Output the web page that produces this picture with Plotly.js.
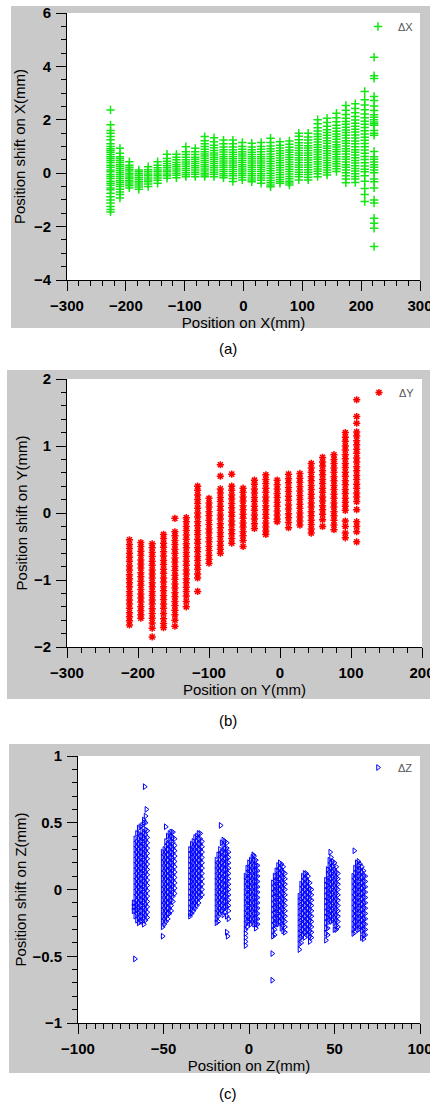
<!DOCTYPE html>
<html><head><meta charset="utf-8">
<script src="https://cdn.plot.ly/plotly-3.0.1.min.js"></script>
<style>html,body{margin:0;padding:0;background:#fff}#chart{width:430px;height:1106px}</style>
</head><body><div id="chart"></div>
<script>
// ---------- Panel (a): position shift on X ----------
const axX = [-226,-210,-194,-178,-162,-146,-130,-114,-98,-82,-66,-50,-34,-18,-2,14,30,46,62,78,94,110,126,142,158,174,190,206,222];
const axY = [
 [2.37,1.81,1.6,1.5,1.37,1.25,1.1,1.0,0.92,0.85,0.78,0.7,0.62,0.55,0.48,0.4,0.3,0.22,0.12,0.05,-0.05,-0.12,-0.2,-0.3,-0.38,-0.45,-0.55,-0.62,-0.75,-0.88,-1.0,-1.12,-1.25,-1.36,-1.45],
 [0.93,0.75,0.62,0.55,0.48,0.4,0.32,0.25,0.18,0.1,0.03,-0.05,-0.12,-0.2,-0.28,-0.35,-0.42,-0.5,-0.6,-0.7,-0.8,-0.93],
 [0.43,0.3,0.22,0.15,0.08,0.0,-0.07,-0.14,-0.2,-0.27,-0.33,-0.4,-0.47,-0.55],
 [0.12,0.05,-0.02,-0.09,-0.16,-0.23,-0.3,-0.37,-0.44,-0.52,-0.6],
 [0.24,0.13,0.05,-0.03,-0.1,-0.18,-0.25,-0.32,-0.4,-0.5],
 [0.43,0.3,0.2,0.12,0.05,-0.03,-0.1,-0.18,-0.26,-0.38],
 [0.71,0.55,0.45,0.36,0.28,0.2,0.12,0.05,-0.03,-0.1,-0.19],
 [0.71,0.6,0.5,0.4,0.32,0.24,0.16,0.08,0.0,-0.08,-0.17],
 [0.99,0.8,0.7,0.6,0.5,0.42,0.34,0.26,0.18,0.1,0.02,-0.06,-0.13],
 [0.93,0.8,0.7,0.6,0.52,0.44,0.36,0.28,0.2,0.12,0.04,-0.04,-0.13],
 [1.37,1.22,1.1,1.0,0.9,0.8,0.72,0.64,0.56,0.48,0.4,0.32,0.24,0.16,0.08,0.0,-0.07,-0.13],
 [1.33,1.18,1.05,0.95,0.85,0.76,0.68,0.6,0.52,0.44,0.36,0.28,0.2,0.12,0.04,-0.04,-0.13],
 [1.24,1.1,0.98,0.88,0.79,0.7,0.62,0.54,0.46,0.38,0.3,0.22,0.14,0.06,-0.02,-0.1,-0.17],
 [1.24,1.1,0.98,0.88,0.78,0.7,0.62,0.54,0.46,0.38,0.3,0.22,0.14,0.06,-0.02,-0.1,-0.2,-0.31],
 [1.15,1.0,0.9,0.8,0.72,0.64,0.56,0.48,0.4,0.32,0.24,0.16,0.08,0.0,-0.08,-0.16,-0.25],
 [1.12,0.98,0.88,0.78,0.7,0.62,0.54,0.46,0.38,0.3,0.22,0.14,0.06,-0.02,-0.1,-0.18,-0.25,-0.32],
 [1.15,1.0,0.9,0.8,0.7,0.62,0.54,0.46,0.38,0.3,0.22,0.14,0.06,-0.02,-0.1,-0.18,-0.26,-0.38],
 [1.31,1.15,1.02,0.92,0.82,0.72,0.63,0.54,0.45,0.36,0.27,0.18,0.09,0.0,-0.09,-0.18,-0.27,-0.36,-0.44,-0.51],
 [1.18,1.05,0.94,0.84,0.75,0.66,0.57,0.48,0.39,0.3,0.21,0.12,0.03,-0.06,-0.15,-0.24,-0.31,-0.38],
 [1.21,1.08,0.97,0.87,0.78,0.69,0.6,0.51,0.42,0.33,0.24,0.15,0.06,-0.03,-0.12,-0.21,-0.3,-0.37,-0.44],
 [1.5,1.38,1.25,1.14,1.04,0.94,0.85,0.76,0.67,0.58,0.49,0.4,0.31,0.22,0.13,0.04,-0.05,-0.13,-0.25],
 [1.5,1.36,1.24,1.13,1.03,0.94,0.85,0.76,0.67,0.58,0.49,0.4,0.31,0.22,0.13,0.04,-0.05,-0.15,-0.25],
 [2.0,1.85,1.7,1.58,1.47,1.37,1.27,1.17,1.07,0.97,0.88,0.79,0.7,0.61,0.52,0.43,0.34,0.25,0.16,0.07,-0.02,-0.13],
 [2.06,1.9,1.76,1.63,1.52,1.42,1.32,1.22,1.12,1.02,0.93,0.84,0.75,0.66,0.57,0.48,0.39,0.3,0.21,0.12,0.03,-0.07],
 [2.25,2.08,1.93,1.8,1.68,1.57,1.47,1.37,1.27,1.17,1.07,0.98,0.89,0.8,0.71,0.62,0.53,0.44,0.35,0.26,0.17,0.06],
 [2.54,2.36,2.2,2.06,1.94,1.83,1.72,1.62,1.52,1.42,1.32,1.22,1.12,1.02,0.92,0.82,0.72,0.62,0.52,0.42,0.32,0.22,0.12,0.02,-0.1,-0.22,-0.36],
 [2.6,2.42,2.26,2.12,1.99,1.87,1.76,1.65,1.54,1.43,1.32,1.21,1.1,0.99,0.88,0.78,0.68,0.58,0.48,0.38,0.28,0.18,0.08,-0.02,-0.12,-0.22,-0.35],
 [3.06,2.75,2.55,2.38,2.22,2.08,1.95,1.83,1.71,1.59,1.47,1.35,1.23,1.11,0.99,0.87,0.75,0.63,0.51,0.39,0.27,0.15,0.05,-0.1,-0.3,-0.57,-0.8,-1.06],
 [4.34,3.65,3.55,2.87,2.72,2.52,2.35,2.19,2.1,2.0,1.92,1.85,1.8,1.6,1.5,1.42,0.81,0.62,0.52,0.42,0.32,0.22,0.12,0.02,-0.22,-0.32,-0.55,-1.0,-1.12,-1.69,-1.87,-2.06,-2.75]
];

// ---------- Panel (b): position shift on Y ----------
const byX = [-212,-196,-180,-164,-148,-132,-116,-100,-84,-68,-52,-36,-20,-4,12,28,44,60,76,92,108];
const byY = [
 [-0.4,-0.47,-0.53,-0.6,-0.66,-0.72,-0.79,-0.85,-0.92,-0.98,-1.04,-1.1,-1.17,-1.23,-1.3,-1.36,-1.42,-1.49,-1.55,-1.61,-1.67],
 [-0.44,-0.5,-0.57,-0.63,-0.7,-0.76,-0.82,-0.89,-0.95,-1.02,-1.08,-1.14,-1.21,-1.27,-1.33,-1.4,-1.46,-1.52,-1.57],
 [-0.46,-0.52,-0.59,-0.65,-0.72,-0.78,-0.85,-0.91,-0.97,-1.04,-1.1,-1.17,-1.23,-1.3,-1.36,-1.43,-1.5,-1.57,-1.64,-1.72,-1.85],
 [-0.32,-0.38,-0.45,-0.51,-0.58,-0.64,-0.71,-0.77,-0.84,-0.9,-0.97,-1.03,-1.1,-1.16,-1.23,-1.29,-1.36,-1.42,-1.5,-1.58,-1.65,-1.71],
 [-0.08,-0.28,-0.34,-0.41,-0.47,-0.54,-0.6,-0.67,-0.73,-0.8,-0.86,-0.93,-0.99,-1.06,-1.12,-1.19,-1.25,-1.32,-1.38,-1.45,-1.52,-1.6,-1.69],
 [-0.07,-0.13,-0.2,-0.26,-0.33,-0.39,-0.46,-0.52,-0.59,-0.65,-0.72,-0.78,-0.85,-0.91,-0.98,-1.04,-1.11,-1.17,-1.24,-1.32,-1.4],
 [0.4,0.34,0.27,0.2,0.14,0.07,0.0,-0.06,-0.13,-0.19,-0.26,-0.32,-0.39,-0.45,-0.52,-0.58,-0.65,-0.71,-0.78,-0.84,-0.91,-0.97,-1.17],
 [0.22,0.15,0.09,0.02,-0.04,-0.11,-0.17,-0.24,-0.3,-0.37,-0.43,-0.5,-0.56,-0.63,-0.69,-0.75],
 [0.72,0.55,0.36,0.3,0.23,0.17,0.1,0.04,-0.03,-0.09,-0.16,-0.22,-0.29,-0.35,-0.42,-0.48,-0.54,-0.6],
 [0.58,0.4,0.34,0.27,0.21,0.14,0.08,0.01,-0.05,-0.12,-0.18,-0.25,-0.31,-0.38,-0.45],
 [0.37,0.31,0.24,0.18,0.11,0.05,-0.02,-0.08,-0.15,-0.21,-0.28,-0.34,-0.41,-0.5],
 [0.49,0.43,0.36,0.3,0.23,0.17,0.1,0.04,-0.03,-0.09,-0.16,-0.23],
 [0.57,0.5,0.44,0.37,0.31,0.24,0.18,0.11,0.05,-0.02,-0.08,-0.15,-0.21,-0.27,-0.32],
 [0.49,0.42,0.36,0.29,0.23,0.16,0.1,0.03,-0.03,-0.09,-0.13],
 [0.58,0.51,0.45,0.38,0.32,0.25,0.19,0.12,0.06,-0.01,-0.07,-0.14,-0.22],
 [0.59,0.52,0.46,0.39,0.33,0.26,0.2,0.13,0.07,0.0,-0.06,-0.12,-0.18],
 [0.74,0.67,0.61,0.54,0.48,0.41,0.35,0.28,0.22,0.15,0.09,0.02,-0.04,-0.11,-0.17,-0.24,-0.3],
 [0.83,0.76,0.7,0.63,0.57,0.5,0.44,0.37,0.31,0.24,0.18,0.11,0.05,-0.02,-0.1,-0.2],
 [0.87,0.8,0.74,0.67,0.61,0.54,0.48,0.41,0.35,0.28,0.22,0.15,0.09,0.02,-0.04,-0.11,-0.18,-0.25],
 [1.2,1.13,1.07,1.0,0.94,0.87,0.81,0.74,0.68,0.61,0.55,0.48,0.42,0.35,0.29,0.22,0.16,0.1,0.04,-0.12,-0.2,-0.3,-0.37],
 [1.69,1.44,1.34,1.21,1.15,1.08,1.02,0.95,0.89,0.82,0.76,0.69,0.63,0.56,0.5,0.43,0.37,0.3,0.24,0.17,0.05,-0.13,-0.2,-0.28,-0.43]
];

// ---------- Panel (c): position shift on Z (9 clusters, sub-columns) ----------
const czX = [
 [-66.5,-65.5,-64.5,-63.5,-62.5,-61.5,-60.5,-59.5],
 [-50.5,-49.5,-48.5,-47.5,-46.5,-45.5,-44.5,-43.5],
 [-34.5,-33.5,-32.5,-31.5,-30.5,-29.5,-28.5,-27.5],
 [-19,-18,-17,-16,-15,-14,-13,-12],
 [-2,-1,0,1,2,3,4,5],
 [14,15,16,17,18,19,20,21],
 [29.5,30.5,31.5,32.5,33.5,34.5,35.5,36.5],
 [45,46,47,48,49,50,51,52],
 [61,62,63,64,65,66,67,68]
];
const czY = [
 [[0.38,0.34,0.3,0.26,0.22,0.18,0.14,0.1,0.06,0.02,-0.02,-0.06,-0.1,-0.13,-0.16,-0.2],
  [0.42,0.36,0.32,0.28,0.24,0.2,0.16,0.12,0.08,0.04,0.0,-0.04,-0.08,-0.12,-0.15,-0.19,-0.23],
  [0.46,0.42,0.38,0.34,0.3,0.26,0.22,0.18,0.14,0.1,0.06,0.02,-0.02,-0.06,-0.1,-0.14,-0.18,-0.22,-0.25],
  [0.47,0.4,0.36,0.32,0.28,0.24,0.2,0.16,0.12,0.08,0.04,0.0,-0.04,-0.08,-0.12,-0.16,-0.2,-0.24],
  [0.48,0.44,0.4,0.36,0.32,0.28,0.24,0.2,0.16,0.12,0.08,0.04,0.0,-0.04,-0.08,-0.12,-0.16,-0.2,-0.24],
  [0.5,0.43,0.39,0.35,0.31,0.27,0.23,0.19,0.15,0.11,0.07,0.03,-0.01,-0.05,-0.09,-0.13,-0.17,-0.21,-0.26],
  [0.55,0.5,0.45,0.41,0.37,0.33,0.29,0.25,0.21,0.17,0.13,0.09,0.05,0.01,-0.03,-0.07,-0.11,-0.15,-0.19,-0.23],
  [0.44,0.39,0.35,0.31,0.27,0.23,0.19,0.15,0.11,0.07,0.03,-0.01,-0.05,-0.09,-0.13,-0.17,-0.21]],
 [[0.28,0.24,0.2,0.16,0.12,0.08,0.04,0.0,-0.04,-0.08,-0.12,-0.16,-0.2,-0.24,-0.28],
  [0.3,0.26,0.22,0.18,0.14,0.1,0.06,0.02,-0.02,-0.06,-0.1,-0.14,-0.18,-0.22,-0.26],
  [0.36,0.32,0.28,0.24,0.2,0.16,0.12,0.08,0.04,0.0,-0.04,-0.08,-0.12,-0.16,-0.2,-0.24],
  [0.4,0.34,0.3,0.26,0.22,0.18,0.14,0.1,0.06,0.02,-0.02,-0.06,-0.1,-0.14,-0.18,-0.22],
  [0.42,0.38,0.34,0.3,0.26,0.22,0.18,0.14,0.1,0.06,0.02,-0.02,-0.06,-0.1,-0.14,-0.18],
  [0.43,0.4,0.36,0.32,0.28,0.24,0.2,0.16,0.12,0.08,0.04,0.0,-0.04,-0.08,-0.12,-0.16],
  [0.43,0.39,0.35,0.31,0.27,0.23,0.19,0.15,0.11,0.07,0.03,-0.01,-0.05,-0.09],
  [0.38,0.33,0.29,0.25,0.21,0.17,0.13,0.09,0.05,0.01,-0.03]],
 [[0.3,0.26,0.22,0.18,0.14,0.1,0.06,0.02,-0.02,-0.06,-0.1,-0.14,-0.18,-0.2],
  [0.34,0.3,0.26,0.22,0.18,0.14,0.1,0.06,0.02,-0.02,-0.06,-0.1,-0.14,-0.18],
  [0.36,0.32,0.28,0.24,0.2,0.16,0.12,0.08,0.04,0.0,-0.04,-0.08,-0.12,-0.16],
  [0.39,0.34,0.3,0.26,0.22,0.18,0.14,0.1,0.06,0.02,-0.02,-0.06,-0.1,-0.14],
  [0.4,0.36,0.32,0.28,0.24,0.2,0.16,0.12,0.08,0.04,0.0,-0.04,-0.08,-0.12],
  [0.42,0.38,0.34,0.3,0.26,0.22,0.18,0.14,0.1,0.06,0.02,-0.02,-0.06,-0.1],
  [0.42,0.38,0.34,0.3,0.26,0.22,0.18,0.14,0.1,0.06,0.02,-0.02,-0.06],
  [0.36,0.32,0.28,0.24,0.2,0.16,0.12,0.08,0.04,0.0,-0.04]],
 [[0.22,0.18,0.14,0.1,0.06,0.02,-0.02,-0.06,-0.1,-0.14,-0.18,-0.22,-0.25],
  [0.26,0.2,0.16,0.12,0.08,0.04,0.0,-0.04,-0.08,-0.12,-0.16,-0.2,-0.24],
  [0.3,0.26,0.22,0.18,0.14,0.1,0.06,0.02,-0.02,-0.06,-0.1,-0.14,-0.18],
  [0.35,0.28,0.24,0.2,0.16,0.12,0.08,0.04,0.0,-0.04,-0.08,-0.12,-0.16],
  [0.37,0.33,0.29,0.25,0.21,0.17,0.13,0.09,0.05,0.01,-0.03,-0.07,-0.11,-0.15,-0.19],
  [0.36,0.31,0.27,0.23,0.19,0.15,0.11,0.07,0.03,-0.01,-0.05,-0.09,-0.13,-0.17],
  [0.35,0.31,0.27,0.23,0.19,0.15,0.11,0.07,0.03,-0.01,-0.05,-0.09,-0.13,-0.2],
  [0.28,0.24,0.2,0.16,0.12,0.08,0.04,0.0,-0.04,-0.08,-0.12,-0.16,-0.22]],
 [[0.1,0.06,0.02,-0.02,-0.06,-0.1,-0.14,-0.18,-0.22,-0.26,-0.3,-0.33,-0.36,-0.39,-0.42],
  [0.16,0.12,0.08,0.04,0.0,-0.04,-0.08,-0.12,-0.16,-0.2,-0.24,-0.28],
  [0.2,0.16,0.12,0.08,0.04,0.0,-0.04,-0.08,-0.12,-0.16,-0.2,-0.24],
  [0.22,0.18,0.14,0.1,0.06,0.02,-0.02,-0.06,-0.1,-0.14,-0.18,-0.22,-0.26],
  [0.24,0.2,0.16,0.12,0.08,0.04,0.0,-0.04,-0.08,-0.12,-0.16,-0.2,-0.24],
  [0.25,0.22,0.18,0.14,0.1,0.06,0.02,-0.02,-0.06,-0.1,-0.14,-0.18,-0.22,-0.26],
  [0.22,0.18,0.14,0.1,0.06,0.02,-0.02,-0.06,-0.1,-0.14,-0.18,-0.22,-0.26,-0.29],
  [0.18,0.14,0.1,0.06,0.02,-0.02,-0.06,-0.1,-0.14,-0.18,-0.22,-0.26]],
 [[0.05,0.01,-0.03,-0.07,-0.11,-0.15,-0.19,-0.23,-0.27,-0.31,-0.35],
  [0.1,0.06,0.02,-0.02,-0.06,-0.1,-0.14,-0.18,-0.22,-0.26,-0.3,-0.34],
  [0.14,0.1,0.06,0.02,-0.02,-0.06,-0.1,-0.14,-0.18,-0.22,-0.26],
  [0.18,0.14,0.1,0.06,0.02,-0.02,-0.06,-0.1,-0.14,-0.18,-0.22,-0.26],
  [0.2,0.16,0.12,0.08,0.04,0.0,-0.04,-0.08,-0.12,-0.16,-0.2,-0.24],
  [0.19,0.15,0.11,0.07,0.03,-0.01,-0.05,-0.09,-0.13,-0.17,-0.21,-0.25,-0.29],
  [0.17,0.13,0.09,0.05,0.01,-0.03,-0.07,-0.11,-0.15,-0.19,-0.23,-0.27,-0.31],
  [0.12,0.08,0.04,0.0,-0.04,-0.08,-0.12,-0.16,-0.2,-0.24,-0.28,-0.32]],
 [[-0.05,-0.09,-0.13,-0.17,-0.21,-0.25,-0.29,-0.33,-0.37,-0.41,-0.45],
  [0.04,0.0,-0.04,-0.08,-0.12,-0.16,-0.2,-0.24,-0.28,-0.32,-0.36,-0.4],
  [0.1,0.06,0.02,-0.02,-0.06,-0.1,-0.14,-0.18,-0.22,-0.26,-0.3,-0.34],
  [0.12,0.08,0.04,0.0,-0.04,-0.08,-0.12,-0.16,-0.2,-0.24,-0.28,-0.32,-0.36],
  [0.12,0.08,0.04,0.0,-0.04,-0.08,-0.12,-0.16,-0.2,-0.24,-0.28,-0.32],
  [0.1,0.06,0.02,-0.02,-0.06,-0.1,-0.14,-0.18,-0.22,-0.26,-0.3,-0.34],
  [0.05,0.01,-0.03,-0.07,-0.11,-0.15,-0.19,-0.23,-0.27,-0.31,-0.35,-0.39],
  [0.0,-0.04,-0.08,-0.12,-0.16,-0.2,-0.24,-0.28,-0.32,-0.36]],
 [[0.07,0.03,-0.01,-0.05,-0.09,-0.13,-0.17,-0.21,-0.25,-0.29,-0.33,-0.38],
  [0.15,0.11,0.07,0.03,-0.01,-0.05,-0.09,-0.13,-0.17,-0.21,-0.25,-0.29,-0.34],
  [0.22,0.18,0.14,0.1,0.06,0.02,-0.02,-0.06,-0.1,-0.14,-0.18,-0.22],
  [0.24,0.2,0.16,0.12,0.08,0.04,0.0,-0.04,-0.08,-0.12,-0.16,-0.2,-0.24],
  [0.21,0.17,0.13,0.09,0.05,0.01,-0.03,-0.07,-0.11,-0.15,-0.19,-0.23],
  [0.2,0.15,0.11,0.07,0.03,-0.01,-0.05,-0.09,-0.13,-0.17,-0.21,-0.25,-0.3],
  [0.17,0.13,0.09,0.05,0.01,-0.03,-0.07,-0.11,-0.15,-0.19,-0.23,-0.27,-0.3],
  [0.12,0.08,0.04,0.0,-0.04,-0.08,-0.12,-0.16,-0.2,-0.24,-0.28]],
 [[0.1,0.06,0.02,-0.02,-0.06,-0.1,-0.14,-0.18,-0.22,-0.26,-0.3,-0.33],
  [0.16,0.12,0.08,0.04,0.0,-0.04,-0.08,-0.12,-0.16,-0.2,-0.24,-0.28,-0.32],
  [0.2,0.16,0.12,0.08,0.04,0.0,-0.04,-0.08,-0.12,-0.16,-0.2,-0.24,-0.28],
  [0.21,0.18,0.14,0.1,0.06,0.02,-0.02,-0.06,-0.1,-0.14,-0.18,-0.22,-0.26,-0.3],
  [0.19,0.15,0.11,0.07,0.03,-0.01,-0.05,-0.09,-0.13,-0.17,-0.21,-0.25,-0.29],
  [0.17,0.13,0.09,0.05,0.01,-0.03,-0.07,-0.11,-0.15,-0.19,-0.23,-0.27,-0.31,-0.36],
  [0.14,0.1,0.06,0.02,-0.02,-0.06,-0.1,-0.14,-0.18,-0.22,-0.26,-0.3,-0.34,-0.37],
  [0.1,0.06,0.02,-0.02,-0.06,-0.1,-0.14,-0.18,-0.22,-0.26,-0.3,-0.34]]
];
const czOutX = [-61,-60,-61.5,-66.7,-67.5,-67.5,-67.5,-48.7,-50.5,-16.6,-13,-12.5,2.5,13.6,13.6,47.5,61.6];
const czOutY = [0.77,0.6,0.52,-0.52,-0.1,-0.13,-0.16,0.47,-0.35,0.48,-0.32,-0.35,0.26,-0.48,-0.68,0.28,0.29];

// ---------- text ----------
const titles = {
  ax: 'Position on X(mm)', ay: 'Position shift on X(mm)',
  bx: 'Position on Y(mm)', by: 'Position shift on Y(mm)',
  cx: 'Position on Z(mm)', cy: 'Position shift on Z(mm)'
};
const seriesNames = ['ΔX','ΔY','ΔZ'];
const captions = ['(a)','(b)','(c)'];

// ---------- build ----------
function flatCols(xs, ys){
  const X=[],Y=[];
  xs.forEach((x,i)=>ys[i].forEach(v=>{X.push(x);Y.push(v);}));
  return [X,Y];
}
const [aX,aY] = flatCols(axX, axY);
const [bX,bY] = flatCols(byX, byY);
const cX=[], cY=[];
czX.forEach((grp,i)=>grp.forEach((x,j)=>czY[i][j].forEach(v=>{cX.push(x);cY.push(v);})));
czOutX.forEach((x,i)=>{cX.push(x);cY.push(czOutY[i]);});

const W=430,H=1106;
const PX=v=>v/W, PY=v=>1-v/H;
const FONT='Liberation Sans, Arial, sans-serif';

function axisBase(domain, range, dtick, minor, title, anchor, standoff){
  return {domain, range, dtick, tick0:0, anchor, ticks:'outside', ticklen:10, tickwidth:1, tickcolor:'#000',
    showline:true, linecolor:'#000', linewidth:1, showgrid:false, zeroline:false,
    ticklabelstandoff:2, ticklabeloverflow:'allow',
    tickfont:{family:FONT,size:15,color:'#000',weight:'bold'},
    minor:{dtick:minor, tick0:0, ticks:'outside', ticklen:5, tickwidth:1, tickcolor:'#000', showgrid:false},
    title:{text:title, font:{family:FONT,size:15,color:'#000'}, standoff}};
}

const traces = [
  {type:'scatter', mode:'markers', x:aX, y:aY, xaxis:'x', yaxis:'y', name:seriesNames[0], legend:'legend',
   marker:{symbol:'cross-thin-open', size:6, color:'#14e614', line:{color:'#14e614', width:1.5}}},
  {type:'scatter', mode:'markers', x:bX, y:bY, xaxis:'x2', yaxis:'y2', name:seriesNames[1], legend:'legend2',
   marker:{symbol:'asterisk-open', size:6, color:'#ff0000', line:{color:'#ff0000', width:1.5}}},
  {type:'scatter', mode:'markers', x:cX, y:cY, xaxis:'x3', yaxis:'y3', name:seriesNames[2], legend:'legend3',
   marker:{symbol:'triangle-right-open', size:5, color:'#0000ff', line:{color:'#0000ff', width:1}}}
];

const frames = [
  {x0:11,x1:430,y0:6,y1:328, px0:67,px1:420,py0:13,py1:280},
  {x0:7,x1:430,y0:370,y1:699, px0:67,px1:422,py0:379,py1:647},
  {x0:9,x1:430,y0:744,y1:1073, px0:78,px1:420,py0:756,py1:1023}
];
const shapes=[];
frames.forEach(f=>{
  shapes.push({type:'rect',xref:'paper',yref:'paper',layer:'below',x0:PX(f.x0),x1:PX(f.x1),y0:PY(f.y1),y1:PY(f.y0),fillcolor:'#c9c9c9',line:{width:0}});
  shapes.push({type:'rect',xref:'paper',yref:'paper',layer:'below',x0:PX(f.px0),x1:PX(f.px1),y0:PY(f.py1),y1:PY(f.py0),fillcolor:'#ffffff',line:{width:0}});
});
const capY=[348,720,1093];
const annotations = captions.map((t,i)=>({text:t, xref:'paper', yref:'paper', x:PX(228), y:PY(capY[i]),
  xanchor:'center', yanchor:'middle', showarrow:false, font:{family:FONT,size:15,color:'#000'}}));

function leg(xp, yp){
  return {x:PX(xp), y:PY(yp), xanchor:'left', yanchor:'top', bgcolor:'rgba(0,0,0,0)', borderwidth:0,
    font:{family:FONT,size:11,color:'#555'}, itemwidth:30};
}

const f=frames;
const layout = {
  width:W, height:H, margin:{l:0,r:0,t:0,b:0}, paper_bgcolor:'#fff', plot_bgcolor:'rgba(0,0,0,0)',
  showlegend:true,
  xaxis: axisBase([PX(f[0].px0),PX(f[0].px1)],[-300,300],100,20,titles.ax,'y',0),
  yaxis: axisBase([PY(f[0].py1),PY(f[0].py0)],[-4,6],2,0.5,titles.ay,'x',4),
  xaxis2: axisBase([PX(f[1].px0),PX(f[1].px1)],[-300,200],100,20,titles.bx,'y2',0),
  yaxis2: axisBase([PY(f[1].py1),PY(f[1].py0)],[-2,2],1,0.2,titles.by,'x2',2),
  xaxis3: axisBase([PX(f[2].px0),PX(f[2].px1)],[-100,100],50,5,titles.cx,'y3',0),
  yaxis3: axisBase([PY(f[2].py1),PY(f[2].py0)],[-1,1],0.5,0.1,titles.cy,'x3',2),
  legend: leg(358,12), legend2: leg(359,378), legend3: leg(358,753),
  shapes, annotations
};
Plotly.newPlot('chart', traces, layout, {staticPlot:true, displayModeBar:false});
</script></body></html>
